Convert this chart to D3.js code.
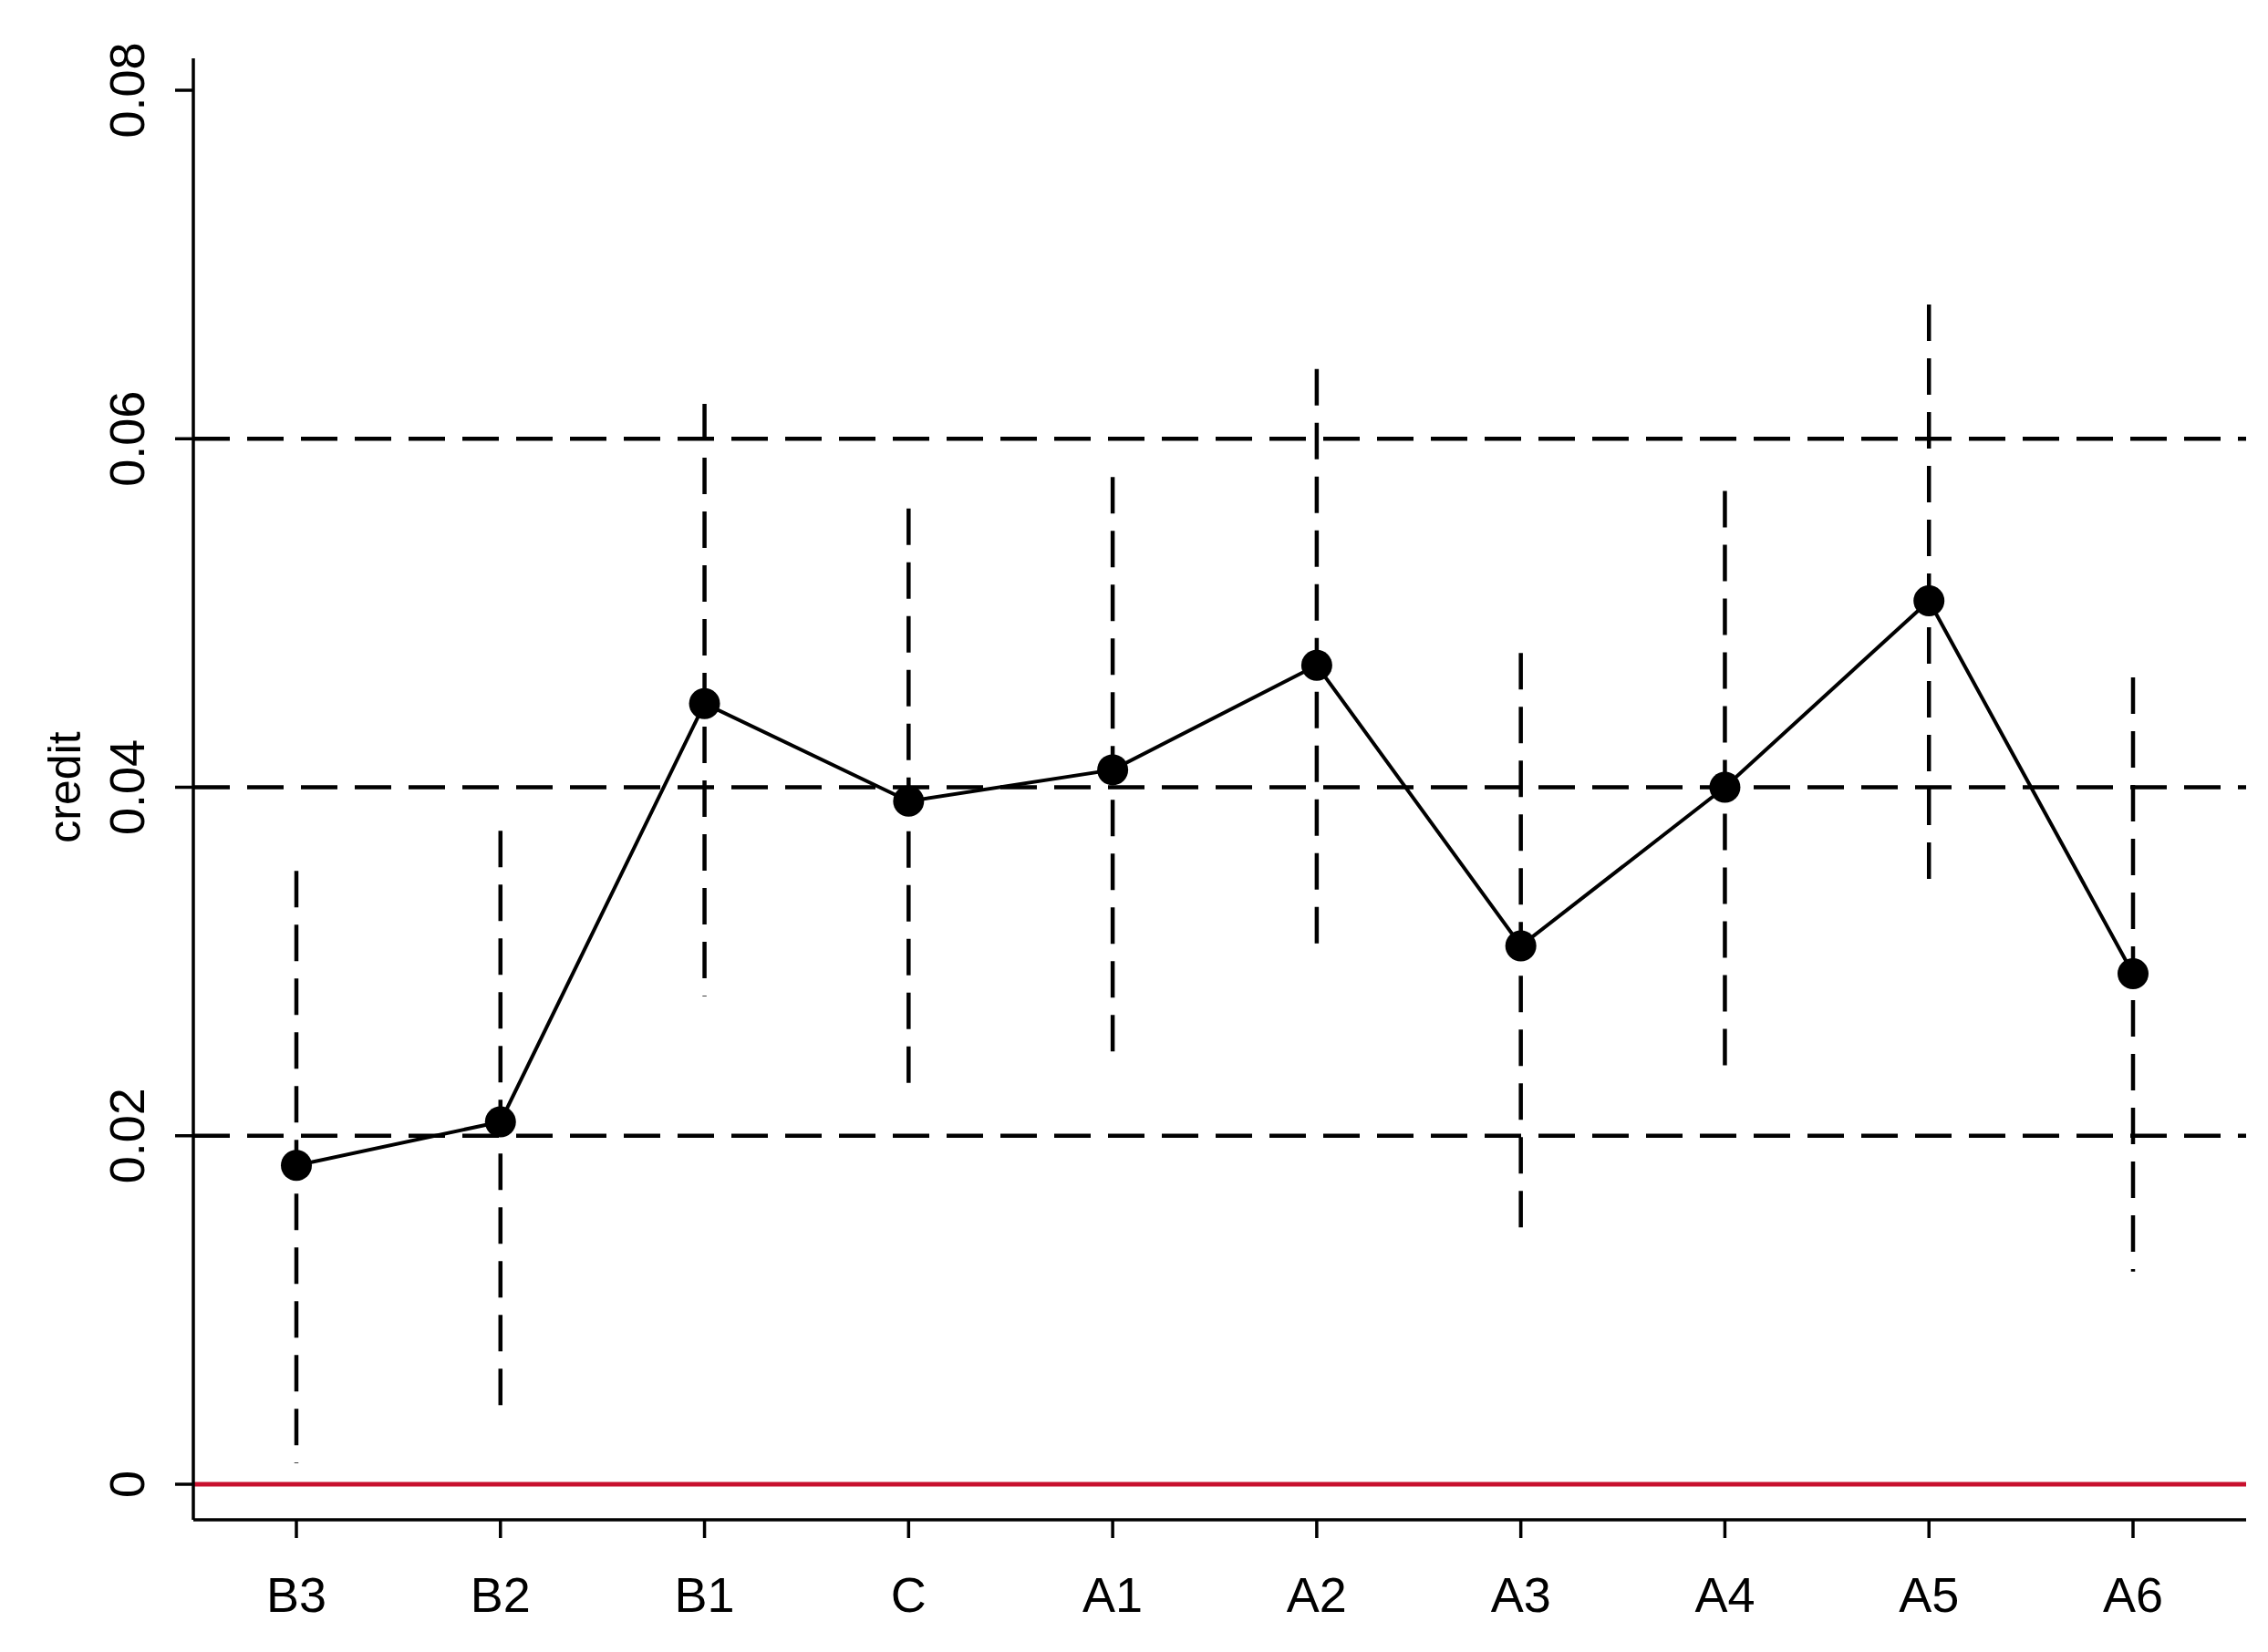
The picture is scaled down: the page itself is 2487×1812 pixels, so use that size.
<!DOCTYPE html>
<html><head><meta charset="utf-8">
<script src="https://cdn.jsdelivr.net/npm/d3@7"></script>
<style>body{margin:0;background:#fff}</style>
</head><body>
<svg id="chart" width="2487" height="1812"></svg>
<script>
const categories = ["B3","B2","B1","C","A1","A2","A3","A4","A5","A6"];
const estimates = [0.0183,0.0208,0.0448,0.0392,0.0410,0.0470,0.0309,0.0400,0.0507,0.0293];
const lower = [0.0012,0.0040,0.0280,0.0223,0.0245,0.0305,0.0142,0.0232,0.0338,0.0122];
const upper = [0.0352,0.0375,0.0620,0.0560,0.0578,0.0640,0.0477,0.0570,0.0677,0.0463];
const yTicks = [0,0.02,0.04,0.06,0.08];
const refLines = [0.02,0.04,0.06];

const svg = d3.select("#chart");
const left = 212, right = 2463, axisBottom = 1667, axisTop = 64;
const font = "Liberation Sans, Arial, sans-serif";

let x = d3.scalePoint().domain(categories).range([325, 2339]);
let y = d3.scaleLinear().domain([0, 0.08]).range([1628, 99]);

// reference lines
svg.selectAll("line.ref").data(refLines).enter().append("line")
  .attr("x1", left).attr("x2", right)
  .attr("y1", d => y(d)).attr("y2", d => y(d))
  .attr("stroke", "#000").attr("stroke-width", 4.5).attr("stroke-dasharray", "40,19");

// zero line
svg.append("line").attr("x1", left).attr("x2", right)
  .attr("y1", y(0)).attr("y2", y(0))
  .attr("stroke", "#c8102e").attr("stroke-width", 5);

// CIs
svg.selectAll("line.ci").data(categories).enter().append("line")
  .attr("x1", d => x(d)).attr("x2", d => x(d))
  .attr("y1", (d, i) => y(upper[i])).attr("y2", (d, i) => y(lower[i]))
  .attr("stroke", "#000").attr("stroke-width", 4.5).attr("stroke-dasharray", "40,19");

// estimate line
svg.append("path")
  .attr("d", d3.line().x((d, i) => x(categories[i])).y(d => y(d))(estimates))
  .attr("fill", "none").attr("stroke", "#000").attr("stroke-width", 4);

svg.selectAll("circle").data(estimates).enter().append("circle")
  .attr("cx", (d, i) => x(categories[i])).attr("cy", d => y(d))
  .attr("r", 17).attr("fill", "#000");

// y axis
svg.append("line").attr("x1", left).attr("x2", left)
  .attr("y1", axisTop).attr("y2", axisBottom).attr("stroke", "#000").attr("stroke-width", 3.5);
yTicks.forEach(t => {
  svg.append("line").attr("x1", left - 20).attr("x2", left)
    .attr("y1", y(t)).attr("y2", y(t)).attr("stroke", "#000").attr("stroke-width", 3.5);
  svg.append("text")
    .attr("transform", `translate(158,${y(t)}) rotate(-90)`)
    .attr("text-anchor", "middle")
    .attr("font-family", font).attr("font-size", 54)
    .text(t === 0 ? "0" : t.toFixed(2));
});
svg.append("text")
  .attr("transform", `translate(88,${y(0.04)}) rotate(-90)`)
  .attr("text-anchor", "middle")
  .attr("font-family", font).attr("font-size", 50)
  .text("credit");

// x axis
svg.append("line").attr("x1", left).attr("x2", right)
  .attr("y1", axisBottom).attr("y2", axisBottom).attr("stroke", "#000").attr("stroke-width", 3.5);
categories.forEach(c => {
  svg.append("line").attr("x1", x(c)).attr("x2", x(c))
    .attr("y1", axisBottom).attr("y2", axisBottom + 20).attr("stroke", "#000").attr("stroke-width", 3.5);
  svg.append("text").attr("x", x(c)).attr("y", 1768)
    .attr("text-anchor", "middle")
    .attr("font-family", font).attr("font-size", 54)
    .text(c);
});
</script>
</body></html>
